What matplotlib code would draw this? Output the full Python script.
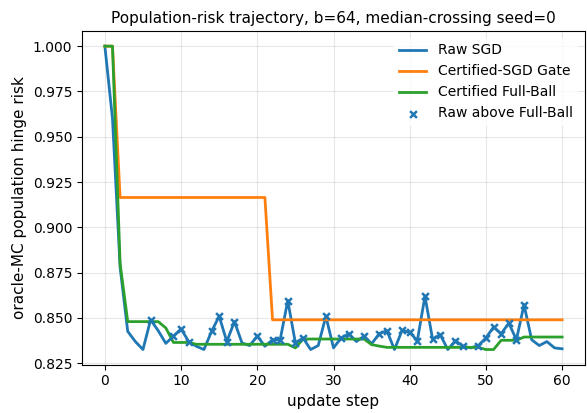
import matplotlib
matplotlib.use("Agg")
import matplotlib.pyplot as plt
import numpy as np

steps = np.arange(61)

raw_sgd = [1.000, 0.960, 0.878, 0.8426, 0.837, 0.8326, 0.849, 0.843, 0.836, 0.840,
           0.844, 0.837, 0.8344, 0.8326, 0.8426, 0.851, 0.837, 0.848, 0.8362, 0.8348,
           0.840, 0.8344, 0.838, 0.838, 0.8596, 0.8362, 0.839, 0.8326, 0.8348, 0.851,
           0.8335, 0.839, 0.8413, 0.837, 0.840, 0.8358, 0.8413, 0.843, 0.8326, 0.8432,
           0.842, 0.8375, 0.862, 0.8384, 0.8408, 0.8326, 0.8375, 0.8344, 0.8335, 0.8348,
           0.839, 0.845, 0.8413, 0.8472, 0.838, 0.8573, 0.838, 0.8348, 0.837, 0.8335,
           0.833]

gate = [1.0, 1.0] + [0.9165] * 20 + [0.849] * 39

full_ball = ([1.0, 1.0, 0.880] + [0.848] * 5 + [0.8445] + [0.8365] * 3
             + [0.8355] * 13 + [0.8335] + [0.8384] * 9 + [0.8353, 0.8345]
             + [0.8338] * 13 + [0.8326] * 2 + [0.8377] * 3 + [0.8395] * 6)

above_steps = [6, 9, 10, 11, 14, 15, 16, 17, 20, 22, 23, 24, 25, 26, 29, 31, 32, 34,
               36, 37, 39, 40, 41, 42, 43, 44, 46, 47, 49, 50, 51, 52, 53, 54, 55]

raw_sgd = np.array(raw_sgd)

fig = plt.figure(figsize=(5.87, 4.13), dpi=100)
ax = fig.add_axes([82 / 587, 1 - 364.7 / 413, 503 / 587, (364.7 - 31) / 413])

ax.plot(steps, raw_sgd, color="C0", lw=2, label="Raw SGD")
ax.plot(steps, gate, color="C1", lw=2, label="Certified-SGD Gate")
ax.plot(steps, full_ball, color="C2", lw=2, label="Certified Full-Ball")
ax.scatter(above_steps, raw_sgd[above_steps], marker="x", color="C0", s=24,
           linewidths=1.8, zorder=3, label="Raw above Full-Ball")

ax.grid(alpha=0.3)
ax.set_xlabel("update step", fontsize=11)
ax.set_ylabel("oracle-MC population hinge risk", fontsize=11)
ax.set_title("Population-risk trajectory, b=64, median-crossing seed=0", fontsize=11)
ax.tick_params(labelsize=10)
leg = ax.legend(loc="upper right", fontsize=10)
leg.get_frame().set_edgecolor("none")

fig.savefig("out.png", dpi=100)
